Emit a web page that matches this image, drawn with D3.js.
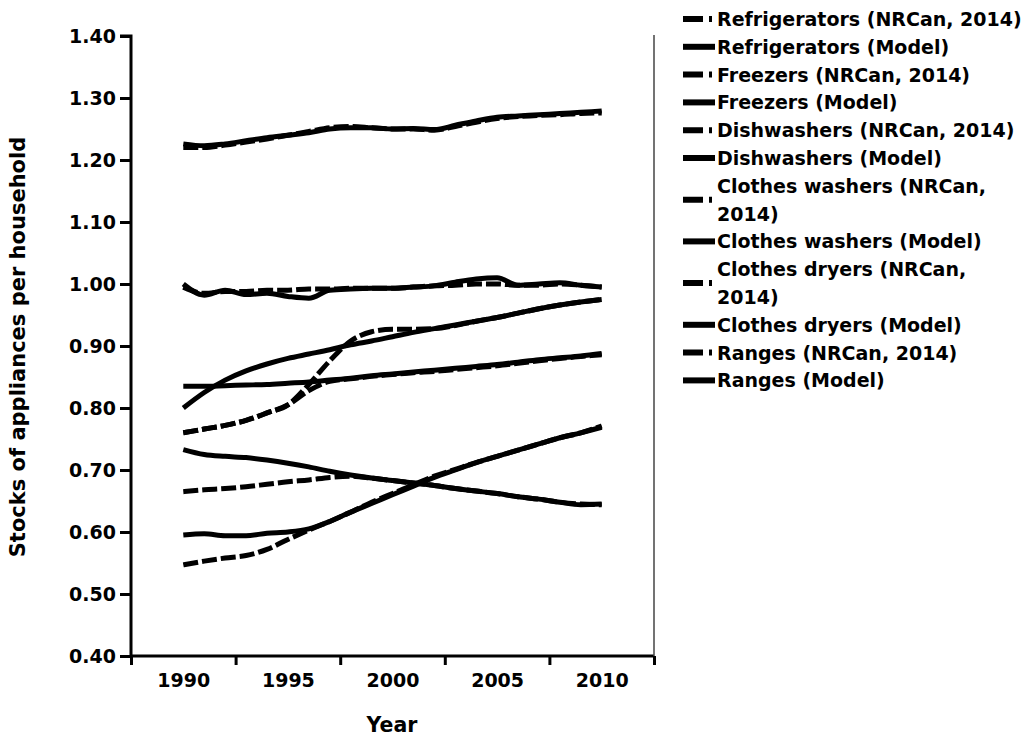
<!DOCTYPE html>
<html>
<head>
<meta charset="utf-8">
<script src="https://cdn.jsdelivr.net/npm/d3@7"></script>
<style>
	body { margin: 0; background: #fff; }
	svg { display: block; }
	text { font-family: "DejaVu Sans", sans-serif; font-weight: bold; fill: #000; }
</style>
</head>
<body>
<div id="chart"></div>
<script>
"use strict";

// years on the x axis
var years = [1990, 1991, 1992, 1993, 1994, 1995, 1996, 1997, 1998, 1999, 2000,
	2001, 2002, 2003, 2004, 2005, 2006, 2007, 2008, 2009, 2010];

// values (stocks per household)
var fridgeNRCan = [1.220, 1.220, 1.224, 1.229, 1.234, 1.240, 1.246, 1.252, 1.254, 1.252, 1.250,
	1.250, 1.248, 1.254, 1.261, 1.267, 1.270, 1.272, 1.273, 1.275, 1.276];
var fridgeModel = [1.226, 1.223, 1.226, 1.231, 1.236, 1.240, 1.244, 1.250, 1.252, 1.252, 1.250,
	1.251, 1.249, 1.256, 1.263, 1.269, 1.271, 1.273, 1.275, 1.277, 1.279];
var freezerNRCan = [0.665, 0.668, 0.670, 0.673, 0.677, 0.681, 0.684, 0.688, 0.690, 0.687, 0.683,
	0.679, 0.675, 0.670, 0.666, 0.662, 0.657, 0.653, 0.648, 0.645, 0.644];
var freezerModel = [0.733, 0.725, 0.722, 0.720, 0.716, 0.711, 0.705, 0.698, 0.692, 0.687, 0.683,
	0.679, 0.675, 0.670, 0.666, 0.662, 0.657, 0.653, 0.648, 0.644, 0.645];
var dishNRCan = [0.547, 0.553, 0.558, 0.562, 0.572, 0.588, 0.603, 0.617, 0.632, 0.648, 0.662,
	0.676, 0.690, 0.701, 0.712, 0.722, 0.732, 0.742, 0.752, 0.760, 0.771];
var dishModel = [0.595, 0.597, 0.594, 0.594, 0.598, 0.600, 0.605, 0.617, 0.632, 0.646, 0.660,
	0.674, 0.688, 0.700, 0.712, 0.722, 0.732, 0.742, 0.752, 0.760, 0.769];
var washerNRCan = [0.760, 0.766, 0.772, 0.780, 0.792, 0.805, 0.838, 0.876, 0.908, 0.923, 0.927,
	0.927, 0.928, 0.933, 0.940, 0.946, 0.953, 0.960, 0.966, 0.971, 0.975];
var washerModel = [0.800, 0.825, 0.845, 0.860, 0.871, 0.880, 0.887, 0.894, 0.902, 0.908, 0.915,
	0.922, 0.928, 0.934, 0.940, 0.946, 0.953, 0.960, 0.966, 0.971, 0.975];
var dryerNRCan = [0.760, 0.766, 0.772, 0.780, 0.792, 0.805, 0.828, 0.843, 0.847, 0.851, 0.854,
	0.857, 0.859, 0.862, 0.865, 0.868, 0.872, 0.876, 0.880, 0.883, 0.886];
var dryerModel = [0.835, 0.835, 0.836, 0.837, 0.838, 0.840, 0.842, 0.845, 0.848, 0.852, 0.855,
	0.858, 0.861, 0.864, 0.867, 0.870, 0.874, 0.878, 0.881, 0.884, 0.888];
var rangeNRCan = [0.995, 0.985, 0.988, 0.988, 0.990, 0.990, 0.992, 0.992, 0.993, 0.993, 0.993,
	0.995, 0.997, 0.998, 1.000, 1.000, 0.998, 0.998, 1.000, 0.998, 0.995];
var rangeModel = [1.000, 0.982, 0.990, 0.983, 0.985, 0.980, 0.977, 0.990, 0.992, 0.993, 0.993,
	0.995, 0.997, 1.003, 1.008, 1.010, 0.998, 1.000, 1.002, 0.998, 0.995];

// legend entries, in order; long ones broken into two lines like the picture
var seriesLabels = [
	["Refrigerators (NRCan, 2014)"],
	["Refrigerators (Model)"],
	["Freezers (NRCan, 2014)"],
	["Freezers (Model)"],
	["Dishwashers (NRCan, 2014)"],
	["Dishwashers (Model)"],
	["Clothes washers (NRCan,", "2014)"],
	["Clothes washers (Model)"],
	["Clothes dryers (NRCan,", "2014)"],
	["Clothes dryers (Model)"],
	["Ranges (NRCan, 2014)"],
	["Ranges (Model)"]
];
var seriesValues = [fridgeNRCan, fridgeModel, freezerNRCan, freezerModel, dishNRCan, dishModel,
	washerNRCan, washerModel, dryerNRCan, dryerModel, rangeNRCan, rangeModel];
var seriesDashed = [true, false, true, false, true, false, true, false, true, false, true, false];

var yTicks = [0.40, 0.50, 0.60, 0.70, 0.80, 0.90, 1.00, 1.10, 1.20, 1.30, 1.40];
var xTickLabels = [1990, 1995, 2000, 2005, 2010];
var xTickMarks = [1987.5, 1992.5, 1997.5, 2002.5, 2007.5, 2012.5];

var svg = d3.select("#chart").append("svg")
	.attr("width", 1029).attr("height", 736);

var x = d3.scaleLinear().domain([1987.5, 2012.5]).range([131, 654]);
var y = d3.scaleLinear().domain([0.4, 1.4]).range([656, 36]);

// y axis
var gy = svg.append("g")
	.attr("transform", "translate(131,0)")
	.call(d3.axisLeft(y).tickValues(yTicks).tickSize(11).tickPadding(4)
		.tickFormat(d3.format(".2f")));
gy.select(".domain").attr("d", "M-11,36H0V656").attr("stroke-width", 3).attr("fill", "none");
gy.selectAll(".tick line").attr("stroke-width", 3);
gy.selectAll(".tick text").style("font-size", "19px").attr("font-family", null);

// x axis: tick marks between the years, labels on the years
var gx = svg.append("g")
	.attr("transform", "translate(0,656)")
	.call(d3.axisBottom(x).tickValues(xTickMarks).tickSize(9).tickFormat(""));
gx.select(".domain").attr("d", "M131,0H654").attr("stroke-width", 3);
gx.selectAll(".tick line").attr("stroke-width", 3);

var gxl = svg.append("g")
	.attr("transform", "translate(0,656)")
	.call(d3.axisBottom(x).tickValues(xTickLabels).tickSize(0).tickPadding(18)
		.tickFormat(d3.format("d")));
gxl.select(".domain").remove();
gxl.selectAll(".tick text").style("font-size", "19px").attr("font-family", null);

// right frame line
svg.append("line")
	.attr("x1", 654).attr("x2", 654).attr("y1", 35).attr("y2", 656)
	.attr("stroke", "#444").attr("stroke-width", 1.5);

// axis titles
svg.append("text")
	.attr("transform", "translate(25,347) rotate(-90)")
	.attr("text-anchor", "middle")
	.style("font-size", "21px")
	.text("Stocks of appliances per household");

svg.append("text")
	.attr("x", 392).attr("y", 732)
	.attr("text-anchor", "middle")
	.style("font-size", "20.5px")
	.text("Year");

// the lines
var line = d3.line()
	.curve(d3.curveMonotoneX)
	.x(function(d, i) { return x(years[i]); })
	.y(function(d) { return y(d); });

svg.append("g").selectAll("path")
	.data(seriesValues)
	.enter().append("path")
	.attr("d", function(d) { return line(d); })
	.attr("fill", "none")
	.attr("stroke", "#000")
	.attr("stroke-width", 5)
	.attr("stroke-dasharray", function(d, i) { return seriesDashed[i] ? "15,4" : null; });

// legend
var rowH = 27.8;
var legend = svg.append("g");
var row = 0;
seriesLabels.forEach(function(lines, i) {
	var top = 19 + row * rowH;
	var mid = top + (lines.length - 1) * rowH / 2;
	var sym = legend.append("line")
		.attr("x1", 683).attr("x2", 715)
		.attr("y1", mid).attr("y2", mid)
		.attr("stroke", "#000")
		.attr("stroke-width", 6);
	if (seriesDashed[i]) sym.attr("stroke-dasharray", "20,6,3,30");
	var t = legend.append("text")
		.attr("x", 717)
		.attr("y", top + 7)
		.style("font-size", "19px");
	lines.forEach(function(s, j) {
		t.append("tspan").attr("x", 717).attr("dy", j === 0 ? 0 : rowH).text(s);
	});
	row += lines.length;
});
</script>
</body>
</html>
